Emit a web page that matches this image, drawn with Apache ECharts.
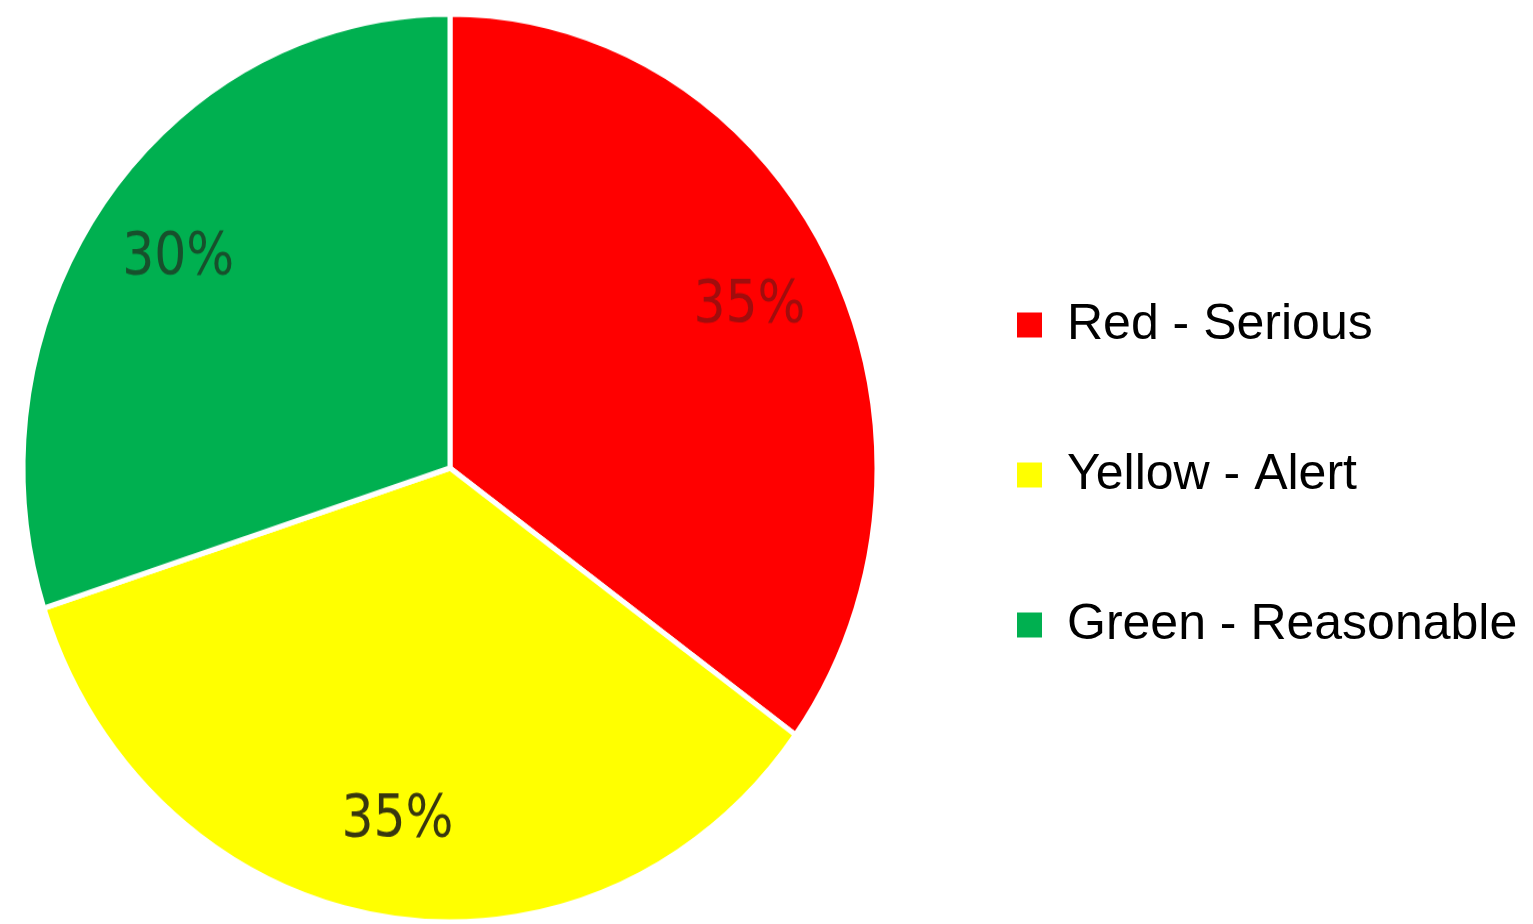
<!DOCTYPE html>
<html>
<head>
<meta charset="utf-8">
<script src="https://cdn.jsdelivr.net/npm/echarts@6/dist/echarts.min.js"></script>
<style>
  html, body { margin: 0; padding: 0; background: #ffffff; }
  #stage { position: relative; width: 1533px; height: 924px; overflow: hidden; }
  #pie, #key { position: absolute; left: 0; top: 0; width: 1533px; height: 924px; }
  /* the pie is drawn slightly taller than wide */
  #pie { transform-origin: 450px 468px; transform: scaleY(1.063); }
</style>
</head>
<body>
<div id="stage">
  <div id="pie"></div>
  <div id="key"></div>
</div>
<script>
// Status categories and their shares (percent)
const categories = ['Red - Serious', 'Yellow - Alert', 'Green - Reasonable'];
const shares = [35, 35, 30];

// Styling
const sliceColors = ['#ff0000', '#ffff00', '#00b050'];
const labelColors = ['#a00d0d', '#38370f', '#17502c'];

const pieData = categories.map((name, i) => ({
  name: name,
  value: shares[i],
  itemStyle: { color: sliceColors[i] }
}));

const labelData = categories.map((name, i) => ({
  name: name,
  value: shares[i],
  label: { color: labelColors[i] }
}));

const R = 427;
const CENTER = [450, 468];

const pieChart = echarts.init(document.getElementById('pie'), null, { renderer: 'canvas' });
pieChart.setOption({
  animation: false,
  backgroundColor: 'transparent',
  series: [
    {
      // filled slices with white separators
      type: 'pie',
      center: CENTER,
      radius: [0, R],
      startAngle: 90,
      clockwise: true,
      silent: true,
      label: { show: false },
      labelLine: { show: false },
      itemStyle: { borderColor: '#ffffff', borderWidth: 5 },
      data: pieData
    },
    {
      // transparent ring that carries the percentage labels toward the rim
      type: 'pie',
      center: CENTER,
      radius: [Math.round(R * 0.56), R],
      startAngle: 90,
      clockwise: true,
      silent: true,
      itemStyle: { color: 'rgba(0,0,0,0)', borderWidth: 0 },
      label: {
        show: true,
        position: 'inside',
        formatter: '{d}%',
        fontFamily: "'DejaVu Sans Condensed', 'Liberation Sans Narrow', sans-serif",
        fontSize: 56,
        fontWeight: 'normal'
      },
      labelLine: { show: false },
      data: labelData
    }
  ]
});

// Legend on the right
const keyChart = echarts.init(document.getElementById('key'), null, { renderer: 'canvas' });
keyChart.setOption({
  animation: false,
  backgroundColor: 'transparent',
  legend: {
    orient: 'vertical',
    left: 1012,
    top: 295,
    icon: 'rect',
    itemWidth: 25,
    itemHeight: 25,
    itemGap: 100,
    selectedMode: false,
    textStyle: {
      fontFamily: "'Liberation Sans', Arial, sans-serif",
      fontSize: 50,
      lineHeight: 50,
      color: '#000000',
      padding: [0, 0, 0, 20]
    },
    data: categories
  },
  series: [
    {
      type: 'pie',
      center: [-500, -500],
      radius: [0, 0],
      silent: true,
      label: { show: false },
      labelLine: { show: false },
      data: pieData
    }
  ]
});
</script>
</body>
</html>
